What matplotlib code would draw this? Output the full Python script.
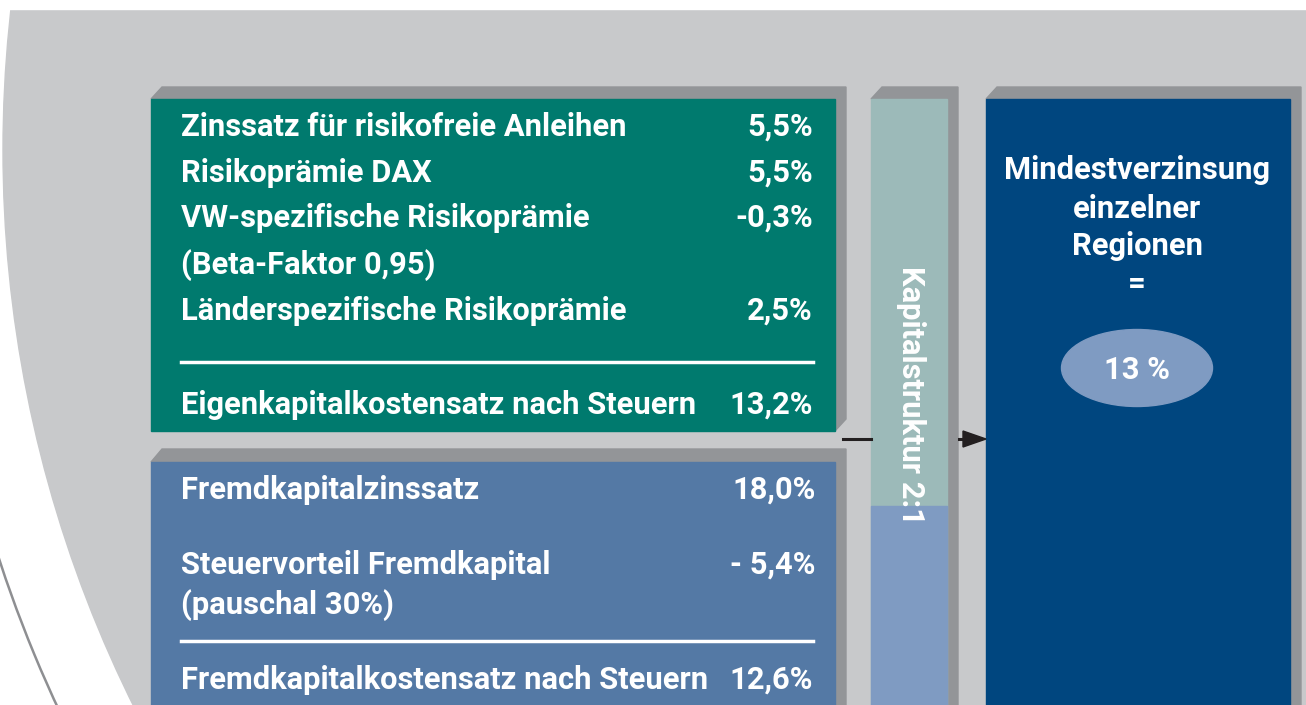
import matplotlib.pyplot as plt
from matplotlib.patches import Rectangle, Polygon, Circle, Ellipse, Arc

# text content of the diagram
ek_labels = ["Zinssatz für risikofreie Anleihen", "Risikoprämie DAX",
             "VW-spezifische Risikoprämie", "(Beta-Faktor 0,95)",
             "Länderspezifische Risikoprämie"]
ek_values = ["5,5%", "5,5%", "-0,3%", "", "2,5%"]
ek_total_label = "Eigenkapitalkostensatz nach Steuern"
ek_total_value = "13,2%"

fk_labels = ["Fremdkapitalzinssatz", "Steuervorteil Fremdkapital", "(pauschal 30%)"]
fk_values = ["18,0%", "- 5,4%", ""]
fk_total_label = "Fremdkapitalkostensatz nach Steuern"
fk_total_value = "12,6%"

structure_label = "Kapitalstruktur 2:1"
result_lines = ["Mindestverzinsung", "einzelner", "Regionen", "="]
result_value = "13 %"

# colours
bg_grey = "#c8c9cb"
shadow = "#939598"
green = "#007a6e"
blue_mid = "#5479a5"
teal_light = "#9cbab9"
blue_light = "#7f9bc2"
navy = "#00467f"

W, H = 1306, 705
fig = plt.figure(figsize=(W / 100, H / 100), dpi=100)
ax = fig.add_axes([0, 0, 1, 1])
ax.set_xlim(0, W)
ax.set_ylim(H, 0)
ax.axis('off')

font = dict(family=['Roboto', 'DejaVu Sans'], fontweight='bold', color='white')

# pick the font size so the first row is as wide as in the original (~447 px)
probe = ax.text(0, 0, ek_labels[0], fontsize=10, **font)
fig.canvas.draw()
w10 = probe.get_window_extent().width
probe.remove()
fs = 10 * 447 / w10

# big grey disc in the background plus the thin outer ring
ax.add_patch(Circle((1252, 150), 1249, color=bg_grey, zorder=0))
ax.add_patch(Arc((1252, 150), 2 * 1318, 2 * 1318, color='#8e8f92', lw=1.8, zorder=0))
ax.add_patch(Rectangle((0, 0), W, 9, color='white', zorder=0.5))


def box(x0, y0, x1, y1, color, dx=11, dy=12):
    # 3d-ish extrusion behind the box
    pts = [(x0, y0), (x0 + dx, y0 - dy), (x1 + dx, y0 - dy), (x1 + dx, y1 - dy), (x1, y1), (x1, y0)]
    ax.add_patch(Polygon(pts, closed=True, color=shadow, zorder=1))
    ax.add_patch(Rectangle((x0, y0), x1 - x0, y1 - y0, color=color, zorder=2))


box(151, 99, 835, 431, green)
box(151, 462, 835, 720, blue_mid, dy=13)
box(871, 99, 947, 720, teal_light)
ax.add_patch(Rectangle((871, 506), 76, 220, color=blue_light, zorder=2))
box(986, 99, 1290, 720, navy)

xl, xr = 181, 813

# upper box rows
ek_y = [127, 173, 218, 265, 311]
for y, lab, val in zip(ek_y, ek_labels, ek_values):
    ax.text(xl, y, lab, ha='left', va='center', fontsize=fs, zorder=3, **font)
    ax.text(xr, y, val, ha='right', va='center', fontsize=fs, zorder=3, **font)
ax.plot([xl, xr], [362, 362], color='white', lw=2.5, zorder=3)
ax.text(xl, 405, ek_total_label, ha='left', va='center', fontsize=fs, zorder=3, **font)
ax.text(xr, 405, ek_total_value, ha='right', va='center', fontsize=fs, zorder=3, **font)

# lower box rows
fk_y = [490, 565, 605]
for y, lab, val in zip(fk_y, fk_labels, fk_values):
    ax.text(xl, y, lab, ha='left', va='center', fontsize=fs, zorder=3, **font)
    ax.text(xr + 3, y, val, ha='right', va='center', fontsize=fs, zorder=3, **font)
ax.plot([xl, xr], [641, 641], color='white', lw=2.5, zorder=3)
ax.text(xl, 680, fk_total_label, ha='left', va='center', fontsize=fs, zorder=3, **font)
ax.text(xr, 680, fk_total_value, ha='right', va='center', fontsize=fs, zorder=3, **font)

# vertical label in the middle column
ax.text(911, 395, structure_label, ha='center', va='center', rotation=-90,
        fontsize=fs, zorder=3, **font)

# arrows
ax.plot([843, 871], [439, 439], color='#231f20', lw=2.2, zorder=3)
ax.plot([959, 968], [439, 439], color='#231f20', lw=2.2, zorder=3)
ax.add_patch(Polygon([(963, 431), (986, 439), (963, 447)], closed=True,
                     color='#231f20', zorder=3))

# result box
for y, t in zip([170, 209, 246, 284], result_lines):
    ax.text(1137, y, t, ha='center', va='center', fontsize=fs, zorder=3, **font)
ax.add_patch(Ellipse((1137, 368), 151, 77, color=blue_light, zorder=3))
ax.text(1137, 370, result_value, ha='center', va='center', fontsize=fs, zorder=4, **font)

fig.savefig('out.png', dpi=100)
